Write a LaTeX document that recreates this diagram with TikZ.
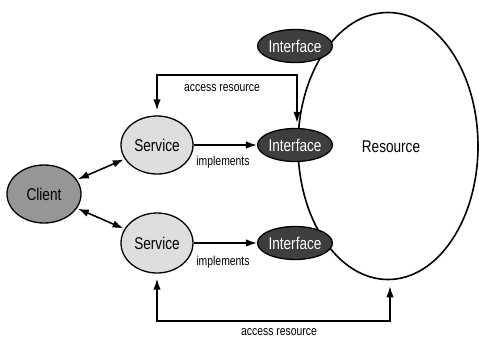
\documentclass[tikz,border=0pt]{standalone}
\usepackage{fontspec}
\setmainfont{Liberation Sans}
\newfontfamily\labfont[FakeStretch=0.8]{Liberation Sans}
\usetikzlibrary{shapes.geometric,arrows.meta}
\definecolor{clientgray}{RGB}{150,150,150}
\definecolor{servicegray}{RGB}{222,222,222}
\definecolor{ifacegray}{RGB}{62,62,62}
\tikzset{
  bubble/.style={ellipse, draw=black, line width=1.3pt, inner sep=0pt,
    font=\labfont\fontsize{17}{18}\selectfont},
  clientbox/.style={bubble, fill=clientgray, minimum width=74pt, minimum height=58pt},
  servicebox/.style={bubble, fill=servicegray, minimum width=72pt, minimum height=58pt},
  ifacebox/.style={bubble, fill=ifacegray, text=white, minimum width=74pt, minimum height=33pt},
  resbox/.style={bubble, line width=1.6pt, minimum width=180pt, minimum height=267pt},
  tip/.style={Latex[length=11pt,width=7.5pt]},
  conn/.style={line width=1.6pt, -{Latex[length=11pt,width=7.5pt]}},
  biconn/.style={line width=1.6pt, {Latex[length=11pt,width=7.5pt]}-{Latex[length=11pt,width=7.5pt]}},
  small/.style={font=\labfont\fontsize{13}{14}\selectfont, inner sep=0pt},
}
\begin{document}
\begin{tikzpicture}[x=1pt,y=-1pt]
\useasboundingbox (0,0) rectangle (479,338);
\node[resbox] (res) at (388,146) {};
\node[font=\labfont\fontsize{17}{18}\selectfont] (reslab) at (391,147) {Resource};
\node[ifacebox] (ifA) at (295,46) {Interface};
\node[ifacebox] (ifB) at (295,145) {Interface};
\node[ifacebox] (ifC) at (295,243) {Interface};
\node[servicebox] (svcA) at (157,145) {Service};
\node[servicebox, minimum height=60pt] (svcB) at (157,243) {Service};
\node[clientbox] (client) at (44,194) {Client};
\coordinate (topline) at (0,75);
\coordinate (botline) at (0,321);
% client <-> services
\draw[biconn, shorten <=1pt, shorten >=1pt] (client) -- (svcA);
\draw[biconn, shorten <=1pt, shorten >=1pt] (client) -- (svcB);
% implements
\draw[conn] (svcA) -- (ifB);
\draw[conn] (svcB) -- (ifC);
\node[small] (implA) at (223,162) {implements};
\node[small] (implB) at (223,262) {implements};
% access resource (top)
\draw[biconn, shorten <=5pt, shorten >=5pt]
  (svcA.north) -- (svcA.north |- topline) -- ([xshift=2pt]ifB.north |- topline) -- ([xshift=2pt]ifB.north);
\node[small] (accA) at (222,88) {access resource};
% access resource (bottom)
\draw[biconn, shorten <=5pt, shorten >=6pt]
  (svcB.south) -- (svcB.south |- botline) -- ([xshift=2pt]res.south |- botline) -- ([xshift=2pt]res.south);
\node[small] (accB) at (279,332) {access resource};
\end{tikzpicture}
\end{document}
